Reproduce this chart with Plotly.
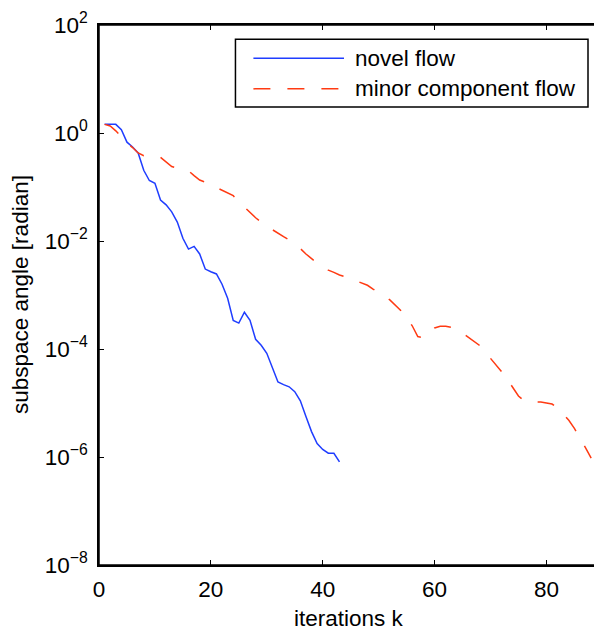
import plotly.graph_objects as go

# iterations
k_novel = list(range(1, 44))
k_minor = list(range(1, 89))

# log10 of subspace angle [radian]
novel_log10 = [0.16, 0.16, 0.16, 0.06, -0.17, -0.26, -0.37, -0.69, -0.88, -0.93,
               -1.24, -1.33, -1.46, -1.65, -1.95, -2.15, -2.10, -2.24, -2.52, -2.57,
               -2.61, -2.80, -3.06, -3.47, -3.52, -3.32, -3.47, -3.82, -3.93, -4.08,
               -4.35, -4.61, -4.66, -4.70, -4.79, -4.96, -5.25, -5.53, -5.75, -5.86,
               -5.93, -5.93, -6.09]
minor_log10 = [0.16, 0.13, 0.04, -0.08, -0.18, -0.27, -0.37, -0.42, -0.42, -0.42,
               -0.45, -0.54, -0.62, -0.65, -0.67, -0.70, -0.79, -0.87, -0.91, -0.96,
               -1.00, -1.05, -1.10, -1.16, -1.27, -1.37, -1.47, -1.57, -1.65, -1.73,
               -1.79, -1.86, -1.92, -1.98, -2.06, -2.14, -2.24, -2.33, -2.41, -2.48,
               -2.54, -2.58, -2.63, -2.66, -2.70, -2.73, -2.77, -2.82, -2.89, -2.95,
               -3.02, -3.09, -3.19, -3.29, -3.42, -3.57, -3.77, -3.79, -3.70, -3.61,
               -3.58, -3.58, -3.60, -3.65, -3.71, -3.78, -3.85, -3.93, -4.05, -4.17,
               -4.30, -4.42, -4.56, -4.71, -4.87, -4.96, -4.98, -4.98, -4.98, -5.00,
               -5.02, -5.09, -5.20, -5.32, -5.47, -5.64, -5.83, -6.02]

x_ticks = [0, 20, 40, 60, 80]
y_tick_exps = [-8, -6, -4, -2, 0, 2]
y_tick_text = ["10<sup>" + ("\u2212" + str(-e) if e < 0 else str(e)) + "</sup>" for e in y_tick_exps]
series_names = ["novel flow", "minor component flow"]

BLUE = "#1f3dff"
RED = "#ff3a12"
FONT = "Liberation Sans, Arial, Helvetica, sans-serif"
FS = 22.5

fig = go.Figure()
fig.add_trace(go.Scatter(x=k_novel, y=[10 ** v for v in novel_log10], mode="lines",
                         line=dict(color=BLUE, width=1.5), name=series_names[0],
                         showlegend=False))
fig.add_trace(go.Scatter(x=k_minor, y=[10 ** v for v in minor_log10], mode="lines",
                         line=dict(color=RED, width=1.5, dash="17px,17px"),
                         name=series_names[1], showlegend=False))

axis_common = dict(showline=True, linecolor="black", linewidth=1.5, mirror="ticks",
                   ticks="inside", ticklen=5, tickwidth=1, tickcolor="black",
                   showgrid=False, zeroline=False, ticklabeloverflow="allow",
                   tickfont=dict(family=FONT, size=FS, color="black"))

fig.update_xaxes(range=[0, 89.4], tickvals=x_ticks, ticklabelstandoff=3, **axis_common)
fig.update_yaxes(type="log", range=[-8, 2], tickvals=[10.0 ** e for e in y_tick_exps],
                 ticktext=y_tick_text, ticklabelstandoff=5, **axis_common)

# plot frame and legend box (legend drawn manually to match the sample lengths)
shapes = [
    dict(type="rect", xref="paper", yref="paper", x0=0, x1=1, y0=0, y1=1,
         line=dict(color="black", width=1.5), layer="above"),
    dict(type="rect", xref="paper", yref="paper", x0=0.2729, x1=0.978, y0=0.848, y1=0.9738,
         line=dict(color="black", width=1.5), fillcolor="white", layer="above"),
    dict(type="line", xref="paper", yref="paper", x0=0.3088, x1=0.490, y0=0.9383, y1=0.9383,
         line=dict(color=BLUE, width=1.5), layer="above"),
    dict(type="line", xref="paper", yref="paper", x0=0.3088, x1=0.490, y0=0.8818, y1=0.8818,
         line=dict(color=RED, width=1.5, dash="17px,17px"), layer="above"),
]
annotations = [
    dict(text=series_names[0], xref="paper", yref="paper", x=0.508, y=0.9383,
         xanchor="left", yanchor="middle", showarrow=False,
         font=dict(family=FONT, size=FS, color="black")),
    dict(text=series_names[1], xref="paper", yref="paper", x=0.508, y=0.8818,
         xanchor="left", yanchor="middle", showarrow=False,
         font=dict(family=FONT, size=FS, color="black")),
    dict(text="iterations k", xref="paper", yref="paper", x=0.5, y=-0.0985,
         xanchor="center", yanchor="middle", showarrow=False,
         font=dict(family=FONT, size=FS, color="black")),
    dict(text="subspace angle [radian]", xref="paper", yref="paper", x=-0.158, y=0.5,
         xanchor="center", yanchor="middle", textangle=-90, showarrow=False,
         font=dict(family=FONT, size=FS, color="black")),
]

# the page adds an 8px body margin, so the figure is 8px smaller on each side
fig.update_layout(width=594, height=624, margin=dict(l=91, r=1, t=14, b=67),
                  paper_bgcolor="white", plot_bgcolor="white",
                  shapes=shapes, annotations=annotations, showlegend=False,
                  font=dict(family=FONT, size=FS, color="black"))

fig.write_html("out.html")
